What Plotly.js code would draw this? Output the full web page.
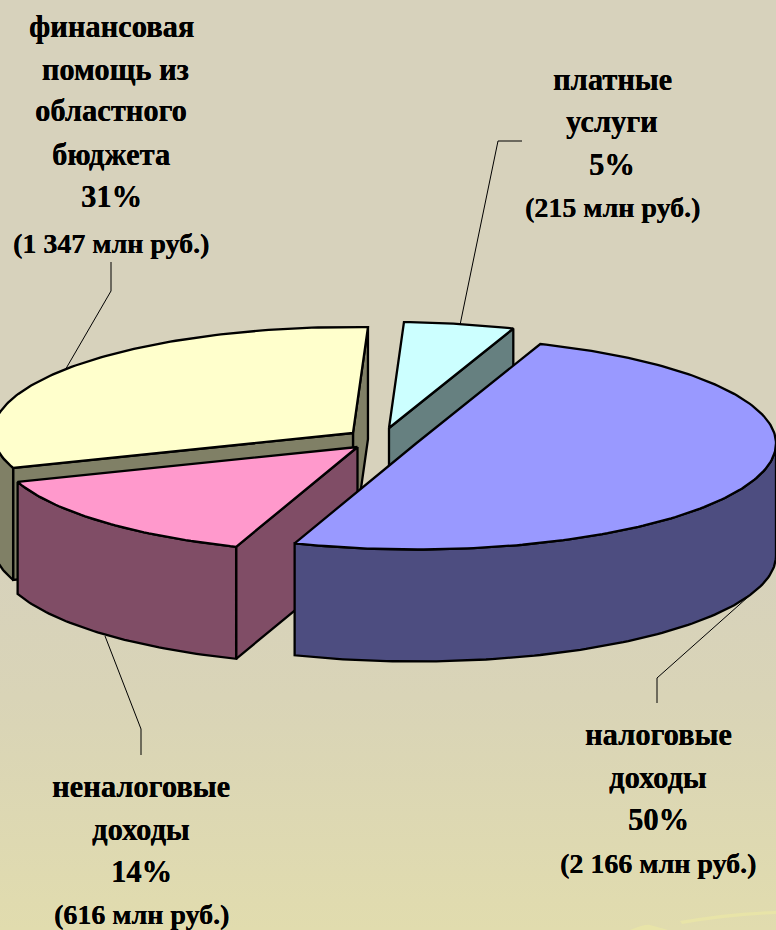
<!DOCTYPE html>
<html><head><meta charset="utf-8">
<script src="https://cdn.plot.ly/plotly-3.0.1.min.js"></script>
<style>
html,body{margin:0;padding:0;width:776px;height:930px;overflow:hidden}
#chart{width:776px;height:930px;background:linear-gradient(180deg,#d7d2bc 0%,#d7d2bc 60%,#d9d4b7 75%,#e1dcae 100%)}
</style></head><body><div id="chart"></div>
<script>
// Data
const categories = ['налоговые доходы','неналоговые доходы','финансовая помощь из областного бюджета','платные услуги'];
const amounts = [2166, 616, 1347, 215];
const percentLabels = ['50%','14%','31%','5%'];
const amountLabels = ['(2 166 млн руб.)','(616 млн руб.)','(1 347 млн руб.)','(215 млн руб.)'];
const nameLines = [['налоговые','доходы'],['неналоговые','доходы'],['финансовая','\u00a0помощь из','областного','бюджета'],['платные','услуги']];
const topColors = ['#9999FF','#FF99CC','#FFFFCC','#CCFFFF'];
const sideColors = ['#4D4D80','#804D66','#808066','#668080'];

// Pie projection
const RX = 360, RY = 106, DEPTH = 112, START_DEG = -69.8;
const apexes = [[416,443.5],[357.5,447],[353,433],[389,428]];
const labelCenters = [[658,[735,778,820,863]],[141,[787,830,872,914]],[111,[27,70,111,155,197,243]],[612,[80,122,165,207]]];
const leaders = [[[657,657,748],[703,678,597]],[[141,141,105],[755,729,636]],[[111,111,64],[262,291,372]],[[522,498,460],[141,141,325]]];
const drawOrder = [2,3,1,0];

const total = amounts.reduce((a,b)=>a+b,0);
let acc = START_DEG;
const spans = amounts.map(v=>{const s=acc; acc+=v/total*360; return [s,acc];});
const rim = (c,deg,dy=0)=>{const r=deg*Math.PI/180; return [c[0]+RX*Math.cos(r), c[1]+RY*Math.sin(r)+dy];};
const arc = (c,a,b,dy=0)=>{const n=Math.max(2,Math.ceil(Math.abs(b-a)));const p=[];for(let i=0;i<=n;i++)p.push(rim(c,a+(b-a)*i/n,dy));return p;};
const traces = [];
function poly(pts,fill,name){
  traces.push({type:'scatter',mode:'lines',x:pts.map(p=>p[0]),y:pts.map(p=>p[1]),fill:'toself',fillcolor:fill,
    line:{color:'#000',width:2.3,shape:'linear'},name:name,hoverinfo:'name',showlegend:false});
}
function wall(c,deg,col,name){
  const q=rim(c,deg);
  poly([c,q,[q[0],q[1]+DEPTH],[c[0],c[1]+DEPTH],c],col,name);
}
// leader lines behind slices
leaders.forEach(l=>traces.push({type:'scatter',mode:'lines',x:l[0],y:l[1],line:{color:'#000',width:1},hoverinfo:'skip',showlegend:false}));
drawOrder.forEach(i=>{
  const c=apexes[i],[a,b]=spans[i],name=categories[i];
  if(i===2){ wall(c,b,sideColors[i],name); wall(c,a,sideColors[i],name); }
  if(i===3){ wall(c,b,sideColors[i],name); }
  if(i===1){ wall(c,a,sideColors[i],name); }
  const f0=Math.max(a,0), f1=Math.min(b,180);
  if(f1>f0){
    const top=arc(c,f0,f1), bot=arc(c,f1,f0,DEPTH);
    poly(top.concat(bot,[top[0]]),sideColors[i],name);
  }
  poly([c].concat(arc(c,a,b),[c]),topColors[i],name);
});

const annotations=[];
const FAMILY='"Liberation Serif","Times New Roman",serif';
categories.forEach((_,i)=>{
  const lines=nameLines[i].concat([percentLabels[i],amountLabels[i]]);
  const [cx,ys]=labelCenters[i];
  lines.forEach((t,j)=>annotations.push({xref:'x',yref:'y',x:cx,y:ys[j],text:'<b>'+t+'</b>',showarrow:false,xanchor:'center',yanchor:'middle',
    font:{family:FAMILY,size:j===lines.length-1?28:30.5,color:'#000',shadow:'0.3px 0 0.4px #000'}}));
});

const layout={width:776,height:930,margin:{l:0,r:0,t:0,b:0},paper_bgcolor:'rgba(0,0,0,0)',plot_bgcolor:'rgba(0,0,0,0)',
  showlegend:false,hovermode:'closest',
  xaxis:{range:[0,776],visible:false,fixedrange:true},
  yaxis:{range:[930,0],visible:false,fixedrange:true},
  annotations:annotations,
  shapes:[{type:'path',layer:'below',path:'M 680 921 Q 730 912 776 911 L 776 914 Q 730 916 682 924 Z',fillcolor:'#e8e4a8',line:{width:0}},
          {type:'path',layer:'below',path:'M 630 930 Q 645 924 650 925 L 668 930 Z',fillcolor:'#e8e4a8',line:{width:0}}]
};
Plotly.newPlot('chart',traces,layout,{displayModeBar:false});
</script></body></html>
